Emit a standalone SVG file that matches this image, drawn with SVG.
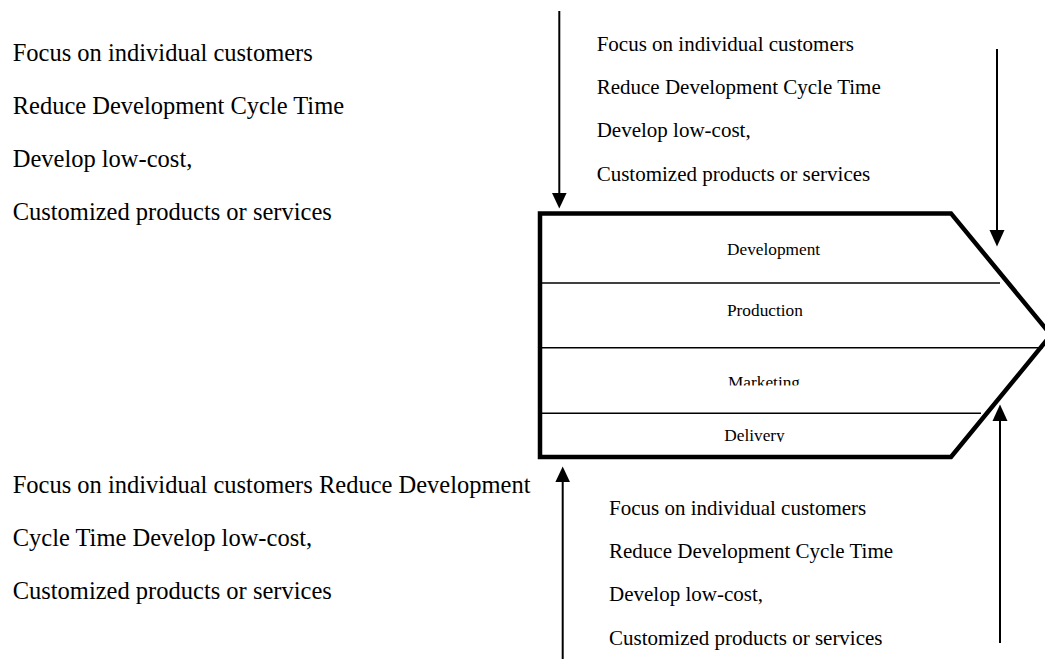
<svg xmlns="http://www.w3.org/2000/svg" width="1045" height="659" viewBox="0 0 1045 659">
<style>
  .big { font-family: "Liberation Serif", "Times New Roman", serif; font-size: 24.5px; fill: #000; }
  .mid { font-family: "Liberation Serif", "Times New Roman", serif; font-size: 21px; fill: #000; }
  .lab { font-family: "Liberation Serif", "Times New Roman", serif; font-size: 17.3px; fill: #000; }
  .frame { fill: #fff; stroke: #000; stroke-width: 4.5; stroke-linejoin: miter; }
  .div { stroke: #000; stroke-width: 1.6; fill: none; }
  .conn { stroke: #000; stroke-width: 2; fill: none; }
  .head { fill: #000; stroke: none; }
</style>
<defs>
  <clipPath id="clipMkt"><rect x="540" y="350" width="400" height="35.5"/></clipPath>
  <clipPath id="clipDel"><rect x="540" y="415" width="400" height="27"/></clipPath>
</defs>
<rect width="1045" height="659" fill="#fff"/>

<g id="text-left-top">
  <text class="big" x="12.7" y="61">Focus on individual customers</text>
  <text class="big" x="12.7" y="114">Reduce Development Cycle Time</text>
  <text class="big" x="12.7" y="167">Develop low-cost,</text>
  <text class="big" x="12.7" y="220">Customized products or services</text>
</g>

<g id="text-center-top">
  <text class="mid" x="596.7" y="51">Focus on individual customers</text>
  <text class="mid" x="596.7" y="94">Reduce Development Cycle Time</text>
  <text class="mid" x="596.7" y="137">Develop low-cost,</text>
  <text class="mid" x="596.7" y="180.5">Customized products or services</text>
</g>

<g id="text-left-bottom">
  <text class="big" x="12.7" y="493">Focus on individual customers Reduce Development</text>
  <text class="big" x="12.7" y="546">Cycle Time Develop low-cost,</text>
  <text class="big" x="12.7" y="599">Customized products or services</text>
</g>

<g id="text-center-bottom">
  <text class="mid" x="609" y="515">Focus on individual customers</text>
  <text class="mid" x="609" y="558">Reduce Development Cycle Time</text>
  <text class="mid" x="609" y="601">Develop low-cost,</text>
  <text class="mid" x="609" y="645">Customized products or services</text>
</g>

<g id="value-chain">
  <polygon class="frame" points="540,213.4 951,213.4 1051,335 951,457 540,457"/>
  <line class="div" x1="540" y1="283" x2="1000" y2="283"/>
  <line class="div" x1="540" y1="347.7" x2="1043" y2="347.7"/>
  <line class="div" x1="540" y1="413.3" x2="981" y2="413.3"/>
  <text class="lab" x="727" y="255">Development</text>
  <text class="lab" x="727" y="316">Production</text>
  <text class="lab" x="728" y="388" clip-path="url(#clipMkt)">Marketing</text>
  <text class="lab" x="724.3" y="440.5" clip-path="url(#clipDel)">Delivery</text>
</g>

<g id="connectors">
  <line class="conn" x1="559.3" y1="11" x2="559.3" y2="195"/>
  <polygon class="head" points="552,193 566.6,193 559.3,208.5"/>

  <line class="conn" x1="997" y1="49" x2="997" y2="232"/>
  <polygon class="head" points="989.5,230 1004.5,230 997,246.5"/>

  <line class="conn" x1="562.7" y1="480" x2="562.7" y2="659"/>
  <polygon class="head" points="555.4,482 570,482 562.7,466.5"/>

  <line class="conn" x1="1000" y1="420" x2="1000" y2="643"/>
  <polygon class="head" points="992.5,421 1007.5,421 1000,404.5"/>
</g>
</svg>
